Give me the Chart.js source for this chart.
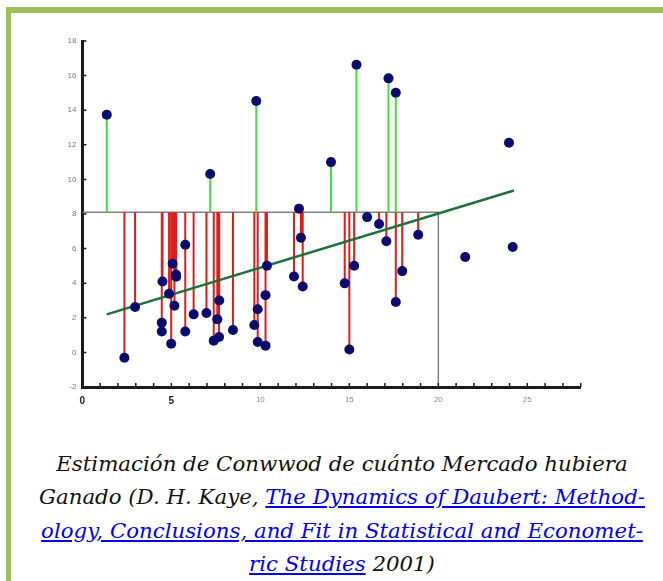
<!DOCTYPE html>
<html>
<head>
<meta charset="utf-8">
<script src="https://cdn.jsdelivr.net/npm/chart.js@4.4.0/dist/chart.umd.min.js"></script>
<style>
  html, body { margin: 0; padding: 0; background: #fff; }
  body { width: 663px; height: 581px; position: relative; overflow: hidden; }
  #frame { position: absolute; left: 6px; top: 7px; width: 720px; height: 620px;
           border-top: 6px solid #9bbf5a; border-left: 5px solid #9bbf5a; }
  #plot { position: absolute; left: 0; top: 0; }
  #cap { position: absolute; left: 12px; top: 447px; width: 660px; text-align: center;
         font-family: 'DejaVu Serif', serif; font-style: italic; font-size: 21.3px;
         line-height: 33.3px; color: #111; }
  #cap a { color: #0000ee; }
</style>
</head>
<body>
<div id="frame"></div>
<canvas id="plot" width="663" height="420"></canvas>
<div id="cap">Estimación de Conwwod de cuánto Mercado hubiera<br>Ganado (D. H. Kaye, <a href="#">The Dynamics of Daubert: Method-<br>ology, Conclusions, and Fit in Statistical and Economet-<br>ric Studies</a> 2001)</div>
<script>
// observed points (x, y)
const pointX = [1.37, 2.36, 2.96, 4.5, 4.46, 4.46, 4.87, 5.07, 4.99, 5.26, 5.27, 5.17,
                5.78, 5.78, 6.25, 6.97, 7.18, 7.38, 7.68, 7.58, 7.69, 8.46, 9.66, 9.77,
                9.85, 9.85, 10.29, 10.29, 10.37, 11.89, 12.17, 12.28, 12.38, 13.97, 14.74, 15.0,
                15.27, 15.4, 16.0, 16.67, 17.08, 17.2, 17.61, 17.61, 17.97, 18.87, 21.51, 23.97, 24.18];
const pointY = [13.74, -0.31, 2.62, 4.1, 1.72, 1.21, 3.39, 5.12, 0.5, 4.5, 4.38, 2.7,
                6.22, 1.21, 2.2, 2.28, 10.31, 0.68, 0.89, 1.91, 3.0, 1.29, 1.58, 14.53,
                2.49, 0.6, 3.31, 0.39, 5.01, 4.39, 8.31, 6.63, 3.81, 11.0, 3.99, 0.17,
                5.01, 16.63, 7.82, 7.42, 6.42, 15.84, 15.01, 2.91, 4.7, 6.8, 5.51, 12.12, 6.09];

// reference level and the end of the period it covers
const refLevel = 8.1;
const refEndX = 20;

// fitted regression line
const fitX = [1.37, 24.25];
const fitY = [2.2, 9.36];

// axes
const xRange = [0, 28];
const yRange = [-2, 18];
const xLabelStep = 5;

const points = pointX.map((x, i) => ({ x: x, y: pointY[i] }));

const greenStems = [];
const redStems = [];
pointX.forEach((x, i) => {
  if (x >= refEndX) return;
  const y = pointY[i];
  const target = y > refLevel ? greenStems : redStems;
  target.push({ x: x, y: refLevel }, { x: x, y: y }, { x: x, y: null });
});

const refLine = [
  { x: xRange[0], y: refLevel },
  { x: refEndX, y: refLevel },
  { x: refEndX, y: yRange[0] }
];
const fitLine = fitX.map((x, i) => ({ x: x, y: fitY[i] }));

const innerTicks = {
  id: 'innerTicks',
  afterDatasetsDraw(chart) {
    const { ctx, scales: { x, y } } = chart;
    ctx.save();
    ctx.strokeStyle = '#1a1a22';
    ctx.lineWidth = 1.5;
    ctx.beginPath();
    x.ticks.forEach(t => {
      if (t.value === xRange[0]) return;
      const px = x.getPixelForValue(t.value);
      ctx.moveTo(px, y.bottom);
      ctx.lineTo(px, y.bottom - 4);
    });
    y.ticks.forEach(t => {
      if (t.value === yRange[0]) return;
      const py = y.getPixelForValue(t.value);
      ctx.moveTo(x.left, py);
      ctx.lineTo(x.left + 4, py);
    });
    ctx.stroke();
    ctx.restore();
  }
};

new Chart(document.getElementById('plot'), {
  type: 'scatter',
  data: {
    datasets: [
      {
        data: points,
        backgroundColor: '#0b0b6e',
        borderColor: '#0b0b6e',
        pointRadius: 5,
        pointBorderWidth: 0
      },
      {
        data: fitLine,
        showLine: true,
        borderColor: '#1b7238',
        borderWidth: 2.5,
        pointRadius: 0
      },
      {
        data: greenStems,
        showLine: true,
        spanGaps: false,
        borderColor: '#44dd44',
        borderWidth: 2,
        pointRadius: 0
      },
      {
        data: redStems,
        showLine: true,
        spanGaps: false,
        borderColor: '#dd1c1c',
        borderWidth: 2,
        pointRadius: 0
      },
      {
        data: refLine,
        showLine: true,
        borderColor: '#808080',
        borderWidth: 1.5,
        pointRadius: 0
      }
    ]
  },
  options: {
    responsive: false,
    animation: false,
    layout: { padding: { left: 42.4, right: 82.3, top: 41, bottom: 8 } },
    plugins: { legend: { display: false }, tooltip: { enabled: false } },
    scales: {
      x: {
        type: 'linear',
        min: xRange[0],
        max: xRange[1],
        afterFit: s => { s.height = 25; },
        grid: { display: false, drawTicks: false },
        border: { display: true, color: '#1a1a22', width: 3 },
        ticks: {
          stepSize: 1,
          autoSkip: false,
          maxRotation: 0,
          padding: 8,
          callback: v => (v % xLabelStep === 0 ? v : ''),
          color: c => (c.tick && c.tick.value <= 5 ? '#222' : '#888'),
          font: c => (c.tick && c.tick.value <= 5
            ? { family: 'Liberation Sans', size: 10, weight: 'bold' }
            : { family: 'Liberation Sans', size: 8 })
        }
      },
      y: {
        min: yRange[0],
        max: yRange[1],
        afterFit: s => { s.width = 40; },
        grid: { display: false, drawTicks: false },
        border: { display: true, color: '#1a1a22', width: 3 },
        ticks: {
          stepSize: 2,
          padding: 6,
          color: '#777',
          font: { family: 'Liberation Sans', size: 8 }
        }
      }
    }
  },
  plugins: [innerTicks]
});
</script>
</body>
</html>
